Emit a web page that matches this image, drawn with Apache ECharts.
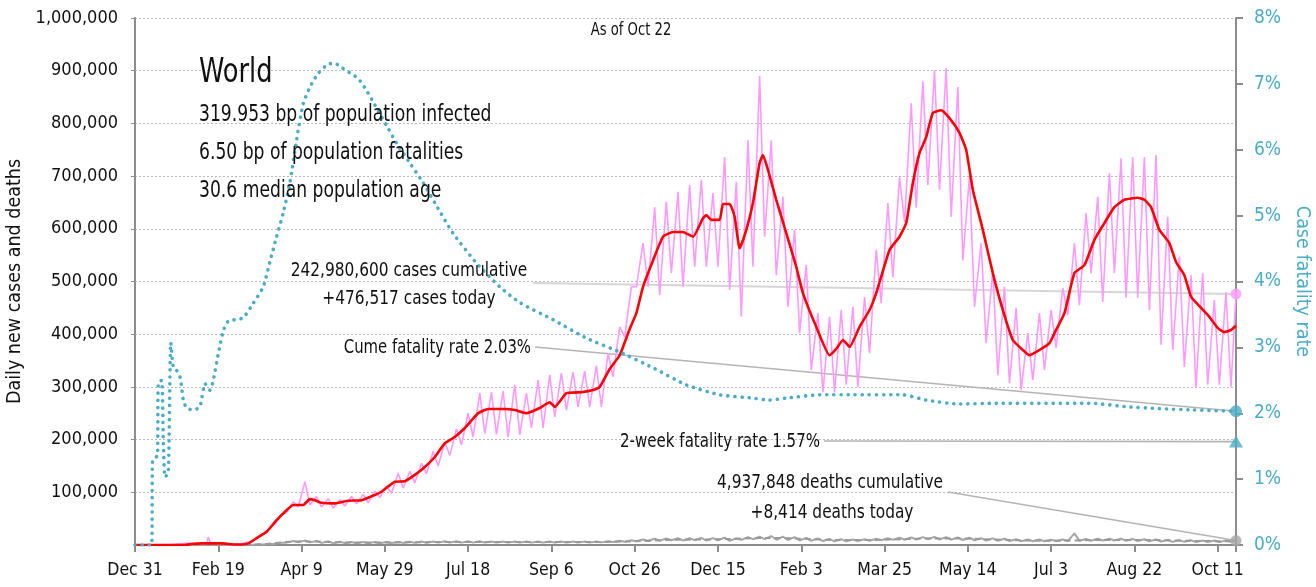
<!DOCTYPE html>
<html>
<head>
<meta charset="utf-8">
<style>
  html, body { margin: 0; padding: 0; background: #fff; }
  #main { width: 1316px; height: 587px; }
</style>
<script src="https://cdn.jsdelivr.net/npm/echarts@6/dist/echarts.min.js"></script>
</head>
<body>
<div id="main"></div>
<script>
const FONT = "'DejaVu Sans Condensed', 'Liberation Sans Narrow', sans-serif";

// x axis: days since Dec 31 2019, a tick every 50 days
const xTickLabels = ['Dec 31', 'Feb 19', 'Apr 9', 'May 29', 'Jul 18', 'Sep 6', 'Oct 26',
  'Dec 15', 'Feb 3', 'Mar 25', 'May 14', 'Jul 3', 'Aug 22', 'Oct 11'];
const lastDay = 661;

// daily new cases (thousands) before the weekly pattern starts
const casesEarly = [[0, 0], [20, 0], [22, 1], [30, 3], [36, 3], [40, 2], [43, 2], [44, 15], [45, 5],
  [50, 2], [55, 1], [60, 1]];
// weekly low / high of daily new cases (thousands), weeks starting day 63
const weekStart = 63;
const casesLow = [2, 6, 20, 40, 62, 72, 76, 72, 70, 74, 78, 80, 90, 98, 108, 118, 135, 150, 170, 190,
  205, 212, 210, 205, 209, 222, 222, 243, 256, 262, 262, 262, 319, 395, 490, 490, 474, 516, 490, 528,
  528, 528, 484, 433, 528, 585, 512, 452, 402, 332, 290, 290, 304, 300, 364, 459, 508, 613, 640, 683,
  674, 623, 540, 452, 383, 322, 307, 294, 313, 332, 374, 436, 455, 516, 461, 516, 469, 469, 446, 380,
  370, 338, 298, 304, 304];
const casesHigh = [5, 14, 32, 58, 82, 120, 92, 88, 86, 92, 96, 102, 112, 136, 140, 155, 178, 195, 220, 250,
  288, 290, 292, 304, 288, 313, 323, 326, 328, 330, 340, 364, 414, 490, 573, 641, 651, 670, 683, 693,
  668, 736, 689, 768, 890, 768, 661, 598, 531, 440, 433, 446, 452, 471, 560, 649, 698, 838, 880, 901,
  905, 869, 700, 573, 520, 490, 450, 402, 440, 446, 488, 573, 630, 661, 706, 734, 736, 736, 740, 623,
  547, 512, 516, 465, 480];
const casesTail = [[658, 300], [661, 476.517]];

// 7-day average of new cases (thousands)
const casesAvg = [[0, 0], [30, 0], [34, 2], [40, 3], [48, 3], [52, 3], [56, 2], [60, 1], [64, 1], [68, 3],
  [73, 13], [79, 25], [85, 47], [91, 66], [95, 76], [101, 76], [105, 87], [108, 85], [112, 80], [120, 79],
  [128, 84], [136, 85], [144, 95], [148, 101], [156, 120], [162, 121], [168, 133], [174, 148], [180, 167],
  [186, 193], [192, 205], [198, 222], [206, 250], [212, 258], [222, 258], [228, 256], [235, 250],
  [243, 260], [249, 271], [252, 262], [259, 288], [268, 290], [275, 294], [279, 300], [285, 334],
  [291, 360], [297, 410], [301, 440], [305, 490], [311, 540], [317, 585], [323, 594], [329, 594],
  [335, 585], [341, 620], [343, 626], [346, 617], [351, 617], [353, 647], [357, 647], [360, 623],
  [363, 563], [367, 598], [371, 649], [375, 725], [377, 740], [380, 712], [385, 655], [391, 592],
  [397, 528], [401, 478], [409, 414], [417, 360], [421, 372], [425, 389], [429, 376], [435, 414],
  [441, 446], [445, 478], [453, 560], [459, 585], [463, 611], [467, 687], [471, 744], [475, 774],
  [479, 820], [484, 825], [489, 810], [495, 782], [499, 750], [503, 674], [509, 598], [515, 516],
  [521, 446], [527, 389], [533, 370], [537, 360], [543, 370], [549, 383], [552, 402], [558, 440],
  [564, 516], [570, 531], [576, 579], [582, 611], [588, 641], [594, 655], [602, 659], [606, 655],
  [610, 641], [615, 598], [621, 573], [625, 537], [630, 512], [634, 471], [640, 450], [645, 433],
  [650, 412], [654, 404], [658, 408], [661, 416]];

// cumulative case fatality rate (%)
const cfr = [[0, 0], [10, 0], [10.5, 1.26], [12, 1.33], [13.5, 1.35], [14, 2.46], [16, 2.5], [17, 1.6],
  [18, 1.03], [20, 1.1], [21.5, 3.07], [23, 2.7], [25, 2.65], [27, 2.55], [28, 2.4], [29, 2.2], [31, 2.08],
  [35, 2.05], [39, 2.1], [42, 2.45], [45, 2.35], [47, 2.5], [50, 2.9], [53, 3.25], [56, 3.4], [60, 3.42],
  [65, 3.45], [71, 3.67], [77, 3.92], [81, 4.3], [85, 4.68], [89, 5.04], [93, 5.5], [97, 6.15],
  [101, 6.7], [105, 6.95], [110, 7.16], [116, 7.3], [120, 7.31], [124, 7.25], [127, 7.2], [134, 7.08],
  [139, 6.9], [144, 6.68], [151, 6.37], [157, 6.1], [165, 5.8], [173, 5.5], [181, 5.15], [191, 4.73],
  [205, 4.28], [219, 3.92], [231, 3.68], [251, 3.42], [271, 3.14], [291, 2.93], [311, 2.69],
  [331, 2.43], [351, 2.28], [371, 2.23], [381, 2.2], [391, 2.23], [411, 2.28], [431, 2.28],
  [461, 2.28], [475, 2.2], [495, 2.14], [515, 2.15], [575, 2.15], [595, 2.1], [615, 2.07],
  [635, 2.05], [661, 2.03]];

// daily deaths (thousands), same weeks as cases
const deathsEarly = [[0, 0], [40, 0.1], [44, 0.3], [50, 0.1], [60, 0.1]];
const deathsLow = [0.1, 0.4, 1, 2.5, 4.5, 5, 5, 4, 3.5, 3.5, 3.5, 3.5, 3.5, 3.8, 4, 4, 4, 4.5, 4.5, 4.5,
  4.5, 4.5, 4.5, 4.5, 4.5, 4.5, 4.5, 4.5, 4.5, 4.5, 4.5, 5, 5.5, 6, 7, 8, 8, 9, 8.5, 9,
  8.5, 9, 8, 10, 11, 11, 10, 9.5, 8.5, 8, 7.5, 7, 7, 7.5, 8, 9, 10, 10, 10.5, 11,
  10.5, 10, 9.5, 9, 8.5, 8, 7.5, 7, 7, 7, 7.5, 7.5, 8, 8, 8.5, 8.5, 8, 7.5, 7, 6.5,
  6, 6, 5.5, 5.5, 5.5];
const deathsHigh = [0.3, 0.8, 2, 4.5, 7.5, 8.5, 7.5, 6.5, 6, 5.5, 5.5, 5.5, 5.5, 5.8, 6, 6.5, 6.5, 7, 7, 7,
  7, 6.5, 6.5, 6.5, 6.5, 6.5, 6.5, 6.5, 6.5, 6.5, 6.5, 7, 8, 9, 10.5, 12, 12.5, 13, 13, 13.5,
  13, 14, 12.5, 15, 16, 17, 16, 15, 13.5, 12.5, 11.5, 11, 10.5, 11, 12, 13, 14, 14.5, 15, 15.5,
  15, 14.5, 14, 13, 12.5, 12, 11, 10.5, 10.5, 10, 10.5, 22, 11.5, 12, 12, 12, 11.5, 11, 10.5, 9.5,
  9, 9, 8.5, 8.5, 8.5];
const deathsTail = [[658, 6], [661, 8.414]];
const deathsAvg = [[0, 0], [60, 0.2], [70, 0.6], [80, 2.5], [90, 5.5], [100, 7], [110, 6.5], [125, 5],
  [150, 4.8], [180, 5.5], [210, 5.5], [250, 5.5], [280, 5.8], [300, 7], [320, 9.5], [350, 10.8],
  [380, 13.5], [400, 12], [420, 9.5], [440, 9.5], [480, 12.5], [500, 12], [530, 9], [550, 8],
  [580, 9.5], [610, 9.5], [640, 7.5], [661, 7.2]];

// headline numbers
const casesToday = 476517;
const deathsToday = 8414;
const cumeFatality = 2.03;
const twoWeekFatality = 1.57;

function weekly(early, lows, highs, tail) {
  const pts = early.slice();
  lows.forEach((lo, i) => {
    const d = weekStart + 7 * i;
    pts.push([d, lo], [d + 4, highs[i]]);
  });
  return pts.concat(tail).map(p => [p[0], p[1] * 1000]);
}
const thousands = arr => arr.map(p => [p[0], p[1] * 1000]);

const chart = echarts.init(document.getElementById('main'));

const axisGray = '#8c8c8c';
const teal = '#4bacc6';

const option = {
  animation: false,
  textStyle: { fontFamily: FONT },
  grid: { left: 135, right: 80, top: 18, bottom: 42, containLabel: false, outerBoundsMode: 'none' },
  xAxis: {
    type: 'value', min: 0, max: lastDay, interval: 50,
    axisLine: { lineStyle: { color: axisGray, width: 2 } },
    axisTick: { length: 7, lineStyle: { color: axisGray, width: 2 } },
    axisLabel: {
      fontFamily: FONT, fontSize: 17.5, color: '#111', margin: 16,
      formatter: v => (v % 50 === 0 ? (xTickLabels[v / 50] || '') : '')
    },
    splitLine: { show: false }
  },
  yAxis: [{
    type: 'value', min: 0, max: 1000000, interval: 100000,
    name: 'Daily new cases and deaths', nameLocation: 'middle', nameGap: 104,
    nameTextStyle: { fontFamily: FONT, fontSize: 19.5, color: '#111' },
    axisLine: { show: true, lineStyle: { color: axisGray, width: 2 } },
    axisTick: { show: true, length: 4, lineStyle: { color: axisGray } },
    axisLabel: {
      fontFamily: FONT, fontSize: 18, color: '#111', margin: 17, showMinLabel: false,
      formatter: v => v.toLocaleString('en-US')
    },
    splitLine: { lineStyle: { color: '#b8b8b8', type: [2, 2], width: 1 } }
  }, {
    type: 'value', min: 0, max: 8, interval: 1, position: 'right',
    name: 'Case fatality rate', nameLocation: 'middle', nameGap: 55, nameRotate: -90,
    nameTextStyle: { fontFamily: FONT, fontSize: 19.5, color: teal },
    axisLine: { show: true, lineStyle: { color: axisGray, width: 2 } },
    axisTick: { show: true, length: 7, lineStyle: { color: axisGray, width: 2 } },
    axisLabel: { fontFamily: FONT, fontSize: 19, color: teal, margin: 18, formatter: '{value}%' },
    splitLine: { show: false }
  }],
  series: [
    {
      name: 'deaths', type: 'line', showSymbol: false, z: 2,
      data: weekly(deathsEarly, deathsLow, deathsHigh, deathsTail),
      lineStyle: { color: '#a6a6a6', width: 2 }
    },
    {
      name: 'deaths avg', type: 'line', showSymbol: false, smooth: 0.2, z: 2,
      data: thousands(deathsAvg),
      lineStyle: { color: '#999', width: 2, type: [6, 4] }
    },
    {
      name: 'cases', type: 'line', showSymbol: false, z: 3,
      data: weekly(casesEarly, casesLow, casesHigh, casesTail),
      lineStyle: { color: '#ff99ff', width: 1.6 }
    },
    {
      name: 'cases avg', type: 'line', showSymbol: false, smooth: 0.15, z: 4,
      data: thousands(casesAvg),
      lineStyle: { color: '#ff0000', width: 2.6 }
    },
    {
      name: 'cfr', type: 'line', yAxisIndex: 1, showSymbol: false, smooth: 0.2, z: 4,
      data: cfr,
      lineStyle: { color: teal, width: 3.6, type: [0.1, 7], cap: 'round' }
    },
    {
      type: 'scatter', z: 6, clip: false, symbolSize: 11,
      data: [{ value: [lastDay, casesToday], itemStyle: { color: '#ff99ff' } },
             { value: [lastDay, deathsToday], itemStyle: { color: '#a6a6a6' } }]
    },
    {
      type: 'scatter', yAxisIndex: 1, z: 6, clip: false,
      data: [{ value: [lastDay, cumeFatality], symbolSize: 12, itemStyle: { color: teal } },
             { value: [lastDay, twoWeekFatality], symbol: 'triangle', symbolSize: [14, 12], itemStyle: { color: teal } }]
    }
  ]
};
chart.setOption(option);

// annotations and leader lines to the last-day markers
const pCases = chart.convertToPixel({ xAxisIndex: 0, yAxisIndex: 0 }, [lastDay, casesToday]);
const pDeaths = chart.convertToPixel({ xAxisIndex: 0, yAxisIndex: 0 }, [lastDay, deathsToday]);
const pCume = chart.convertToPixel({ xAxisIndex: 0, yAxisIndex: 1 }, [lastDay, cumeFatality]);
const pTwo = chart.convertToPixel({ xAxisIndex: 0, yAxisIndex: 1 }, [lastDay, twoWeekFatality]);

// text squeezed horizontally to mimic the condensed face of the original
const txt = (x, y, text, size, sx, align, color) => ({
  type: 'text', x: x, y: y, z: 10, scaleX: sx,
  style: { text: text, font: size + 'px ' + FONT, fill: color || '#111', align: align || 'left', verticalAlign: 'middle' }
});
const leader = (x1, y1, p, color, w) => ({
  type: 'line', z: 1,
  shape: { x1: x1, y1: y1, x2: p[0], y2: p[1] },
  style: { stroke: color, lineWidth: w }
});

chart.setOption({
  graphic: [
    txt(631, 31, 'As of Oct 22', 17, 0.86, 'center'),
    txt(199, 73, 'World', 34, 0.84),
    txt(199, 115, '319.953 bp of population infected', 23, 0.83),
    txt(199, 153, '6.50 bp of population fatalities', 23, 0.83),
    txt(199, 191, '30.6 median population age', 23, 0.83),
    txt(409, 271, '242,980,600 cases cumulative', 19, 0.9, 'center'),
    txt(409, 299, '+476,517 cases today', 19, 0.9, 'center'),
    txt(531, 348, 'Cume fatality rate 2.03%', 19, 0.87, 'right'),
    txt(820, 442, '2-week fatality rate 1.57%', 19, 0.88, 'right'),
    txt(830, 483, '4,937,848 deaths cumulative', 19, 0.9, 'center'),
    txt(832, 513, '+8,414 deaths today', 19, 0.9, 'center'),
    leader(533, 283, pCases, '#d6d6d6', 2),
    leader(535, 347, pCume, '#b4b4b4', 1.6),
    leader(824, 441, pTwo, '#b4b4b4', 1.6),
    leader(948, 492, pDeaths, '#b4b4b4', 1.6)
  ]
});
</script>
</body>
</html>
